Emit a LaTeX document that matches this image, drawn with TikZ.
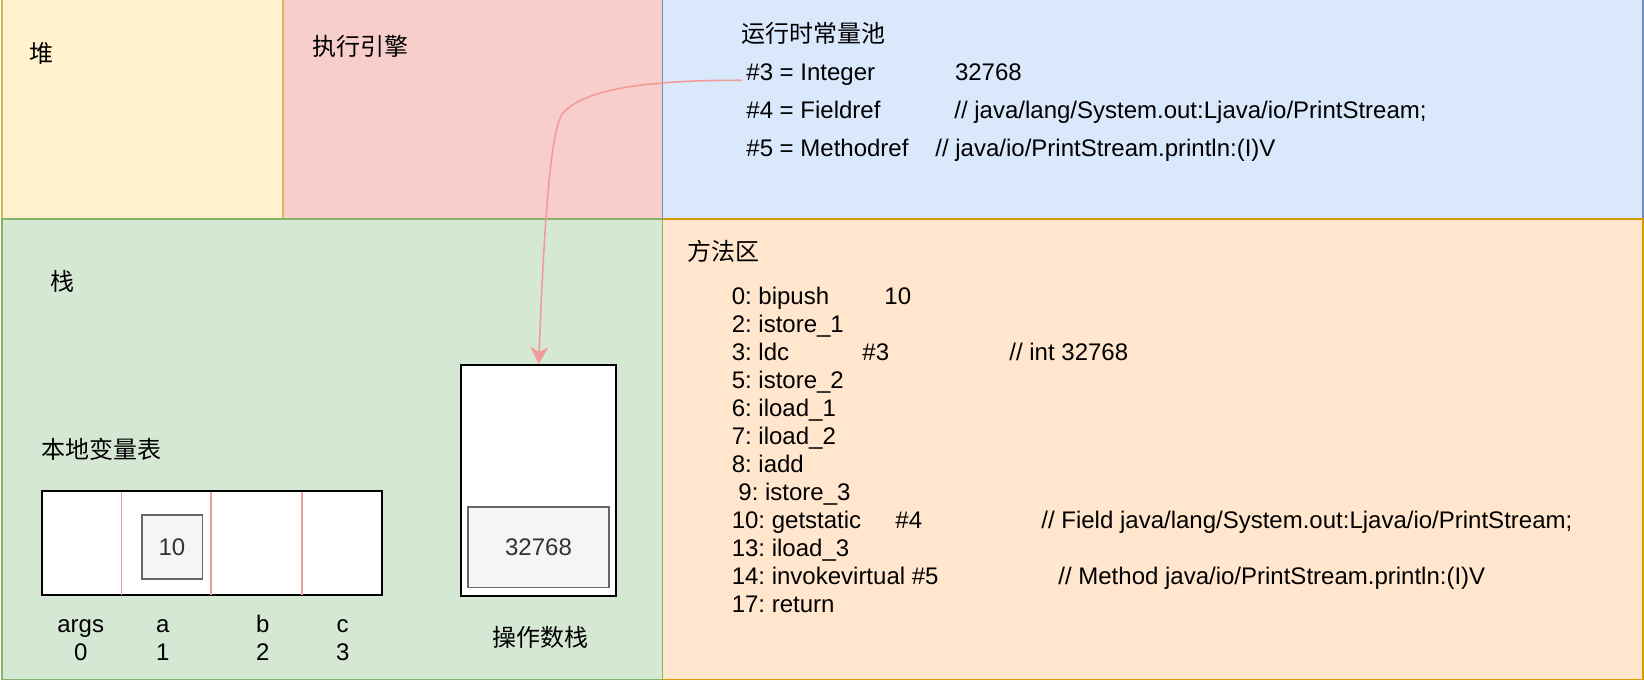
\documentclass[tikz,border=0pt]{standalone}
\usepackage{fontspec}
\setmainfont{Liberation Sans}
\newfontfamily\cjk{Noto Sans CJK SC}
\usepackage{tikz}
\usetikzlibrary{arrows.meta}
\frenchspacing
\definecolor{heapfill}{HTML}{FFF2CC}
\definecolor{heapline}{HTML}{D6B656}
\definecolor{enginefill}{HTML}{F8CECC}
\definecolor{poolfill}{HTML}{DAE8FC}
\definecolor{poolline}{HTML}{6C8EBF}
\definecolor{stackfill}{HTML}{D5E8D4}
\definecolor{stackline}{HTML}{82B366}
\definecolor{methodfill}{HTML}{FFE6CC}
\definecolor{methodline}{HTML}{D79B00}
\definecolor{linkred}{HTML}{F19C99}
\definecolor{valfill}{HTML}{F5F5F5}
\definecolor{valline}{HTML}{666666}
\definecolor{valtext}{HTML}{333333}
\tikzstyle{region} = [rectangle, anchor=north west, inner sep=0pt, line width=0.75pt]
\tikzstyle{txt} = [anchor=base west, inner sep=2pt, font=\frenchspacing\fontsize{12}{14.4}\selectfont]
\tikzstyle{zh} = [txt, font=\cjk\fontsize{12}{14.4}\selectfont]
\tikzstyle{slot} = [rectangle, draw=black, fill=white, line width=1pt, inner sep=0pt]
\tikzstyle{value} = [rectangle, draw=valline, fill=valfill, text=valtext, line width=0.8pt, inner sep=0pt, font=\fontsize{12}{14.4}\selectfont]
\tikzstyle{divider} = [draw=linkred, line width=0.65pt]
\tikzstyle{arrow} = [draw=linkred, line width=0.8pt, -{Stealth[length=8.5pt,width=9pt,inset=2.5pt]}]

\begin{document}
\begin{tikzpicture}[x=0.5pt, y=-0.5pt]
\useasboundingbox (0,0) rectangle (1644,680);

\node (engine) [region, fill=enginefill, minimum width=189.85pt, minimum height=109.65pt] at (282,-1) {};
\node (heap) [region, fill=heapfill, draw=heapline, minimum width=140.25pt, minimum height=109.65pt] at (1.5,-1) {};
\node (pool) [region, fill=poolfill, draw=poolline, minimum width=490.15pt, minimum height=109.65pt] at (661.7,-1) {};
\node (method) [region, fill=methodfill, draw=methodline, minimum width=490.15pt, minimum height=230.1pt] at (661.7,218.3) {};
\node (stack) [region, fill=stackfill, draw=stackline, minimum width=330.1pt, minimum height=230.1pt] at (1.5,218.3) {};

\node (Lheap) [zh] at (25.5,62) {堆};
\node (Lengine) [zh] at (308,55.3) {执行引擎};
\node (Lpool) [zh] at (737,42.3) {运行时常量池};
\node (Lmethod) [zh] at (683,260.7) {方法区};
\node (Lstack) [zh] at (46,290.7) {栈};
\node (Llocals) [zh] at (37,458.5) {本地变量表};
\node (Lops) [zh, anchor=base] at (540,646) {操作数栈};

\node (cp3) [txt] at (742,80.3) {\#3 = Integer};
\node (cp3v) [txt] at (950.6,80.3) {32768};
\node (cp4) [txt] at (742,118.1) {\#4 = Fieldref};
\node (cp4v) [txt] at (950,118.1) {// java/lang/System.out:Ljava/io/PrintStream;};
\node (cp5) [txt] at (742,156.4) {\#5 = Methodref};
\node (cp5v) [txt] at (931,156.4) {// java/io/PrintStream.println:(I)V};

\foreach \op [count=\i from 0] in {0: bipush, 2: istore\_1, 3: ldc, 5: istore\_2, 6: iload\_1, 7: iload\_2, 8: iadd, {\ 9: istore\_3}, 10: getstatic, 13: iload\_3, 14: invokevirtual \#5, 17: return}
  \node (op\i) [txt] at (727.4,{304.6+28*\i}) {\op};
\node (op0v) [txt] at (880,304.6) {10};
\node (op2v) [txt] at (858,360.6) {\#3};
\node (op2c) [txt] at (1005,360.6) {// int 32768};
\node (op8v) [txt] at (891,528.6) {\#4};
\node (op8c) [txt] at (1037,528.6) {// Field java/lang/System.out:Ljava/io/PrintStream;};
\node (op10c) [txt] at (1054,584.6) {// Method java/io/PrintStream.println:(I)V};

\node (locals) [slot, minimum width=170.3pt, minimum height=52.3pt] at (212,543) {};
\foreach \x in {121.7,211,302}
  \draw [divider] (\x,492) -- (\x,594.5);
\node (slot1) [value, minimum width=30.3pt, minimum height=32.15pt] at (172,546.85) {10};
\foreach \x/\n/\k in {80.7/args/0, 162.7/a/1, 262.7/b/2, 342.7/c/3} {
  \node (var\k) [txt, anchor=base] at (\x,632) {\n};
  \node (idx\k) [txt, anchor=base] at (\x,660) {\k};
}

\node (opstack) [slot, minimum width=77.35pt, minimum height=115.35pt] at (538.65,480.35) {};
\node (top) [value, minimum width=70.5pt, minimum height=40.3pt] at (538.5,547) {32768};

\draw [arrow] (cp3.base west) .. controls (620,80) and (580,95) .. (563,113) .. controls (552,126) and (545,200) .. (opstack.north);
\end{tikzpicture}
\end{document}
